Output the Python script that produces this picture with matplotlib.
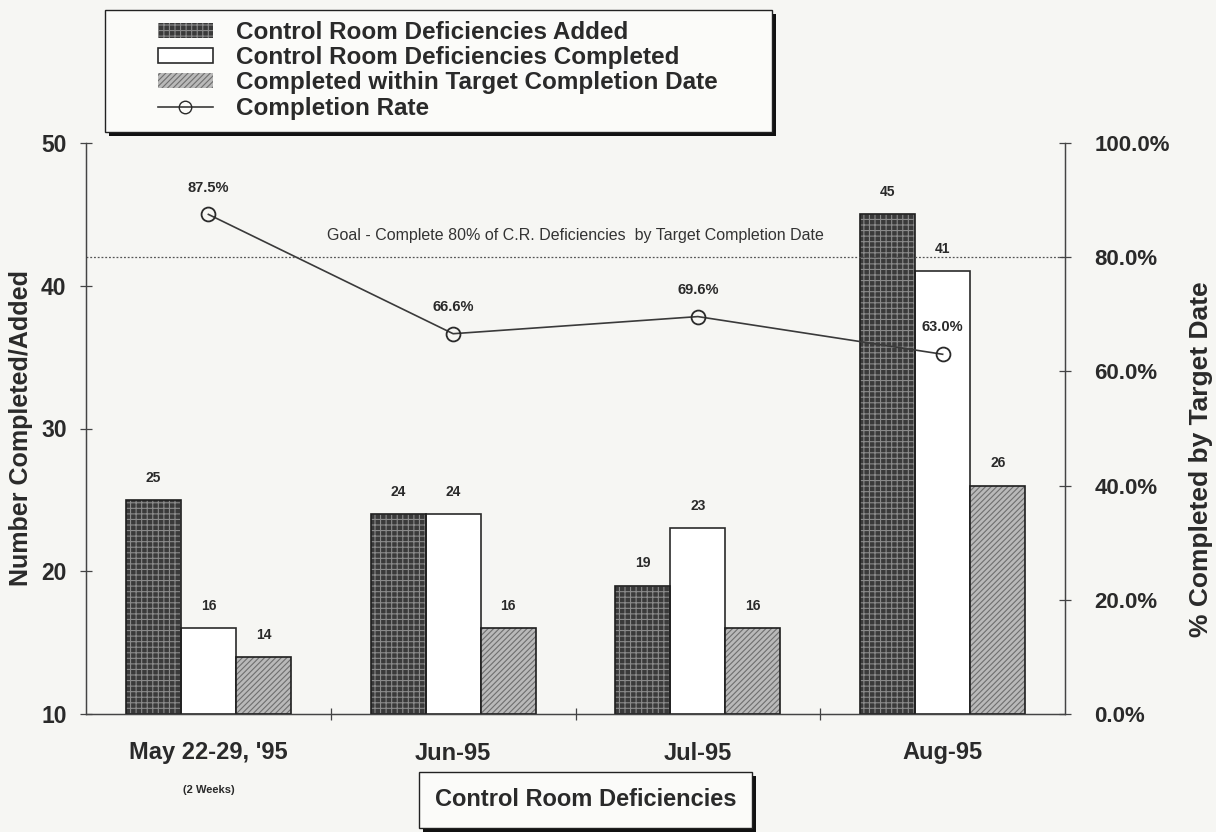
import matplotlib
matplotlib.use("Agg")
import matplotlib.pyplot as plt
from matplotlib.patches import Rectangle, Patch
from matplotlib.lines import Line2D
from matplotlib.ticker import FuncFormatter

plt.rcParams['font.family'] = ['Liberation Sans', 'DejaVu Sans']
plt.rcParams['hatch.linewidth'] = 0.8

# Data
categories = ["May 22-29, '95", "Jun-95", "Jul-95", "Aug-95"]
added = [25, 24, 19, 45]
completed = [16, 24, 23, 41]
within_target = [14, 16, 16, 26]
completion_rate = [87.5, 66.6, 69.6, 63.0]
goal_rate = 80.0

series_names = ["Control Room Deficiencies Added",
                "Control Room Deficiencies Completed",
                "Completed within Target Completion Date",
                "Completion Rate"]

BG = '#f6f6f3'
INK = '#2a2a2a'

W, H = 1216, 832
fig = plt.figure(figsize=(W / 100, H / 100), dpi=100, facecolor=BG)
ax = fig.add_axes([86 / W, 1 - 714 / H, (1065 - 86) / W, (714 - 143) / H])
ax.set_facecolor(BG)

x = list(range(len(categories)))
bw = 0.225
base = 10

style_added = dict(facecolor='#3a3a3a', edgecolor='#8a8a8a', hatch='+++', linewidth=0)
style_done = dict(facecolor='white', edgecolor=INK, linewidth=1.2)
style_target = dict(facecolor='#b9b9b9', edgecolor='#6e6e6e', hatch='//////', linewidth=0)

b1 = ax.bar([i - bw for i in x], [v - base for v in added], bw, bottom=base, **style_added)
b2 = ax.bar(x, [v - base for v in completed], bw, bottom=base, **style_done)
b3 = ax.bar([i + bw for i in x], [v - base for v in within_target], bw, bottom=base, **style_target)
# outlines for the patterned bars
for bars in (b1, b3):
    for r in bars:
        ax.add_patch(Rectangle(r.get_xy(), r.get_width(), r.get_height(),
                               fill=False, edgecolor='#1e1e1e', linewidth=1.2, zorder=3))

for bars, vals in ((b1, added), (b2, completed), (b3, within_target)):
    for r, v in zip(bars, vals):
        ax.text(r.get_x() + r.get_width() / 2, v + 1.55, f"{v}", ha='center', va='center',
                fontsize=10, fontweight='bold', color=INK)

ax.set_xlim(-0.5, len(categories) - 0.5)
ax.set_ylim(10, 50)
ax.set_yticks([10, 20, 30, 40, 50])

# right axis: completion rate
ax2 = ax.twinx()
ax2.set_ylim(0, 100)
ax2.set_yticks([0, 20, 40, 60, 80, 100])
ax2.yaxis.set_major_formatter(FuncFormatter(lambda v, p: f"{v:.1f}%"))

ax2.axhline(goal_rate, color='#555555', linewidth=0.9, linestyle=(0, (1.5, 1.5)), zorder=1)
ax2.text(1.5, goal_rate + 3.8, "Goal - Complete 80% of C.R. Deficiencies  by Target Completion Date",
         ha='center', va='center', fontsize=11.5, color='#333333')

ax2.plot(x, completion_rate, color='#3a3a3a', linewidth=1.2, marker='o', markersize=10,
         markerfacecolor='none', markeredgecolor='#2a2a2a', markeredgewidth=1.3, zorder=4)
for xi, r in zip(x, completion_rate):
    ax2.text(xi, r + 4.7, f"{r:.1f}%", ha='center', va='center', fontsize=10.5,
             fontweight='bold', color=INK)

for a in (ax, ax2):
    a.spines['top'].set_visible(False)
    for s in ('left', 'right', 'bottom'):
        a.spines[s].set_color('#444444')
        a.spines[s].set_linewidth(0.9)

ax.tick_params(axis='y', direction='inout', length=8, width=0.9, color='#444444',
               labelsize=16.5, labelcolor=INK, pad=10)
ax2.tick_params(axis='y', direction='inout', length=8, width=0.9, color='#444444',
                labelsize=16, labelcolor=INK, pad=17)
for t in ax.get_yticklabels() + ax2.get_yticklabels():
    t.set_fontweight('bold')

# category labels centered, ticks at category boundaries
ax.set_xticks([i + 0.5 for i in x[:-1]])
ax.set_xticklabels([])
ax.tick_params(axis='x', direction='inout', length=8, width=0.9, color='#444444')
for xi, c in zip(x, categories):
    ax.text(xi, -39 / 571, c, transform=ax.get_xaxis_transform(), ha='center', va='center',
            fontsize=17, fontweight='bold', color=INK)
ax.text(0, -76 / 571, "(2 Weeks)", transform=ax.get_xaxis_transform(), ha='center', va='center',
        fontsize=8, fontweight='bold', color=INK)

ax.set_ylabel("Number Completed/Added", fontsize=18, fontweight='bold', color=INK)
ax.yaxis.set_label_coords(-53 / 979, 0.5)
ax2.set_ylabel("% Completed by Target Date", fontsize=19, fontweight='bold', color=INK)
ax2.yaxis.set_label_coords(1 + 124 / 979, (714 - 459) / 571)

# boxed panels with a solid drop shadow
def shadow_box(x0, y0, x1, y1, off=4):
    fig.patches.append(Rectangle(((x0 + off) / W, 1 - (y1 + off) / H), (x1 - x0) / W, (y1 - y0) / H,
                                 transform=fig.transFigure, facecolor='#111111', edgecolor='none',
                                 zorder=1))
    fig.patches.append(Rectangle((x0 / W, 1 - y1 / H), (x1 - x0) / W, (y1 - y0) / H,
                                 transform=fig.transFigure, facecolor='#fbfbf9', edgecolor='#222222',
                                 linewidth=1.0, zorder=2))

shadow_box(419, 772, 752, 828)
fig.text(586 / W, 1 - 799 / H, "Control Room Deficiencies", ha='center', va='center',
         fontsize=17, fontweight='bold', color=INK, zorder=3)

# legend
shadow_box(105, 10, 772, 132)
handles = [Patch(**style_added), Patch(**style_done), Patch(**style_target),
           Line2D([], [], color='#3a3a3a', linewidth=1.2, marker='o', markersize=9,
                  markerfacecolor='none', markeredgecolor='#2a2a2a')]
leg = fig.legend(handles, series_names, loc='upper left', bbox_to_anchor=(158 / W, 1 - 21 / H),
                 frameon=False, prop={'size': 17.5, 'weight': 'bold'}, handlelength=2.25,
                 handleheight=0.55, handletextpad=0.95, labelspacing=0.09,
                 borderaxespad=0, borderpad=0)
leg.set_zorder(5)
for t in leg.get_texts():
    t.set_color(INK)

fig.savefig("out.png", dpi=100, facecolor=BG)
